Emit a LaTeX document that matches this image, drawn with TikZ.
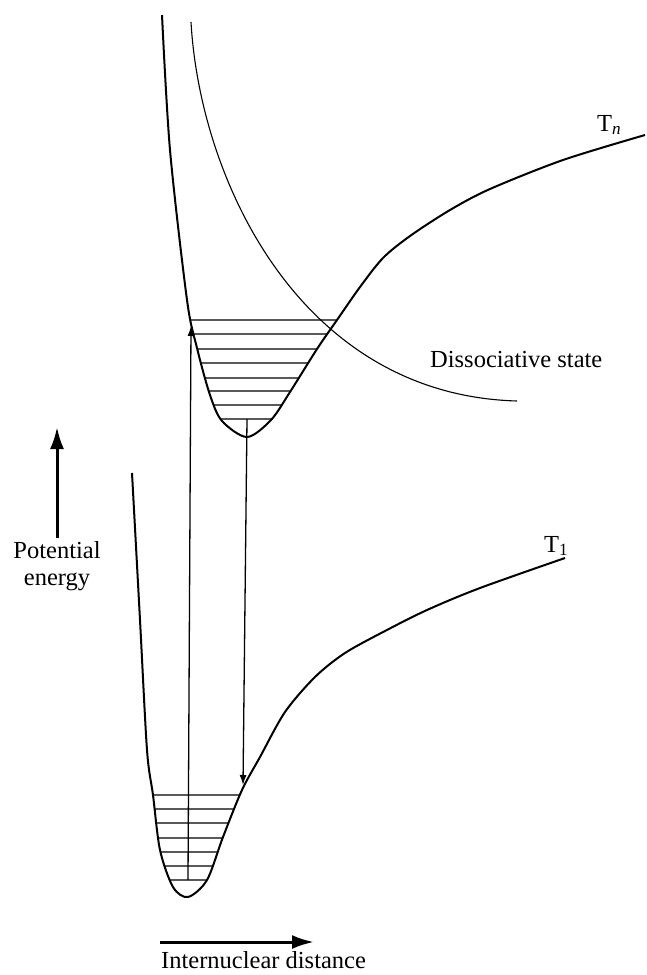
\documentclass[tikz,border=0pt]{standalone}
\usepackage{fontspec}
\setmainfont{Liberation Serif}
\usetikzlibrary{arrows.meta, intersections}
\tikzset{
    pes/.style={line width=2pt, line join=round},
    thinpes/.style={line width=1.1pt},
    vib/.style={line width=1.4pt},
    transition/.style={-{Latex[length=10pt,width=7pt]}, line width=1.3pt},
    axisarrow/.style={-{Latex[length=22pt,width=14pt]}, line width=3pt},
    txt/.style={font=\fontsize{24.5}{27}\selectfont, inner sep=0pt}
}
\begin{document}
\begin{tikzpicture}[x=1pt,y=-1pt]
\useasboundingbox (0,0) rectangle (647,975);

% upper triplet T_n
\draw[pes, name path=Tn] plot[smooth] coordinates {(162,15) (170,150) (187,300) (197,348) (210,395) (222,421) (247,437) (271,420) (290,392) (317,349) (337,320) (360,287) (383,258) (410,236) (450,210) (490,189) (563,160) (645,135)};
\foreach \y in {320,334,349,363,378,391,405,419} {
    \path[name path=lvl] (150,\y) -- (400,\y);
    \draw[vib, name intersections={of=Tn and lvl}] (intersection-1) -- (intersection-2);
}

% dissociative state
\coordinate (diss-top) at (191,22);
\coordinate (diss-end) at (517,401);
\draw[thinpes] (diss-top) .. controls (200,180) and (300,395) .. (diss-end);

% lowest triplet T_1
\draw[pes, name path=T1] plot[smooth] coordinates {(132,473) (140,620) (147,750) (153,795) (160,850) (173,887) (188,897) (207,880) (223,837) (242,790) (260,757) (285,712) (315,677) (345,653) (385,631) (427,610) (480,588) (565,558)};
\foreach \y in {795,809,823,838,852,866,880} {
    \path[name path=lvl] (100,\y) -- (400,\y);
    \draw[vib, name intersections={of=T1 and lvl}] (intersection-1) -- (intersection-2);
}

% transitions
\coordinate (up-start) at (188,880);
\coordinate (up-end) at (191,326);
\coordinate (down-start) at (247,419);
\coordinate (down-end) at (243,785);
\draw[transition] (up-start) -- (up-end);
\draw[transition] (down-start) -- (down-end);

% labels
\node[txt, anchor=base west] (Tn-label) at (597,131) {T\textsubscript{\textit{n}}};
\node[txt, anchor=base west] (T1-label) at (544,552) {T\textsubscript{1}};
\node[txt, anchor=base west] (diss-label) at (430,367) {Dissociative state};

% axes
\node[txt, align=center] (pe-label) at (57,566) {Potential\\energy};
\coordinate (pe-tail) at (57,538);
\coordinate (pe-head) at (57,427);
\draw[axisarrow] (pe-tail) -- (pe-head);
\node[txt, anchor=base west] (r-label) at (161,968) {Internuclear distance};
\coordinate (r-tail) at (160,942);
\coordinate (r-head) at (314,942);
\draw[axisarrow] (r-tail) -- (r-head);
\end{tikzpicture}
\end{document}
